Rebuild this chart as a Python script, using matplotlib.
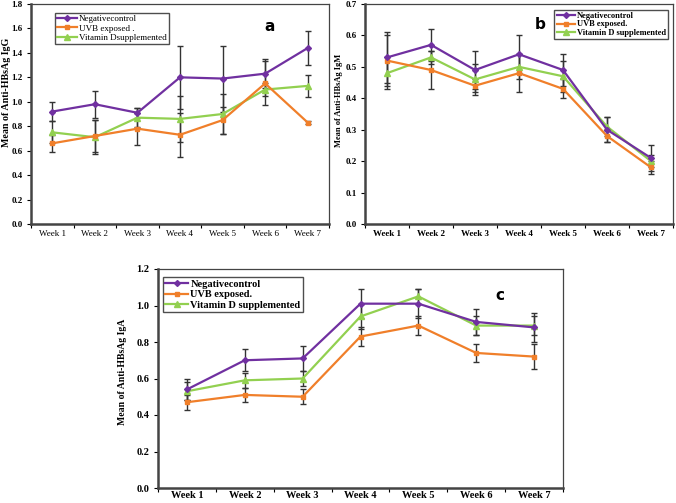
import matplotlib
matplotlib.use("Agg")
import matplotlib.pyplot as plt
import numpy as np

weeks = ["Week 1", "Week 2", "Week 3", "Week 4", "Week 5", "Week 6", "Week 7"]
series_names = ["Negativecontrol", "UVB exposed.", "Vitamin D supplemented"]
series_names_a = ["Negativecontrol", "UVB exposed .", "Vitamin Dsupplemented"]

igg_neg = [0.92, 0.98, 0.91, 1.20, 1.19, 1.23, 1.44]
igg_neg_err = [0.08, 0.11, 0.04, 0.26, 0.27, 0.12, 0.14]
igg_uvb = [0.66, 0.72, 0.78, 0.73, 0.85, 1.15, 0.83]
igg_uvb_err = [0.07, 0.13, 0.13, 0.18, 0.11, 0.18, 0.01]
igg_vit = [0.75, 0.71, 0.87, 0.86, 0.90, 1.10, 1.13]
igg_vit_err = [0.09, 0.14, 0.08, 0.19, 0.16, 0.05, 0.09]

igm_neg = [0.53, 0.57, 0.49, 0.54, 0.49, 0.30, 0.21]
igm_neg_err = [0.08, 0.05, 0.06, 0.06, 0.05, 0.04, 0.04]
igm_uvb = [0.52, 0.49, 0.44, 0.48, 0.43, 0.28, 0.18]
igm_uvb_err = [0.08, 0.06, 0.02, 0.06, 0.03, 0.02, 0.02]
igm_vit = [0.48, 0.53, 0.46, 0.50, 0.47, 0.31, 0.20]
igm_vit_err = [0.05, 0.02, 0.05, 0.04, 0.05, 0.03, 0.02]

iga_neg = [0.54, 0.70, 0.71, 1.01, 1.01, 0.91, 0.88]
iga_neg_err = [0.06, 0.06, 0.07, 0.08, 0.08, 0.07, 0.08]
iga_uvb = [0.47, 0.51, 0.50, 0.83, 0.89, 0.74, 0.72]
iga_uvb_err = [0.04, 0.04, 0.04, 0.05, 0.05, 0.05, 0.07]
iga_vit = [0.53, 0.59, 0.60, 0.94, 1.05, 0.89, 0.89]
iga_vit_err = [0.05, 0.04, 0.04, 0.07, 0.04, 0.05, 0.05]

colors = ["#7030A0", "#F07F2A", "#92D050"]
markers = ["D", "s", "^"]
msizes = [3, 3, 4]

plt.rcParams['font.family'] = ['Liberation Serif', 'DejaVu Serif']

fig = plt.figure(figsize=(6.76, 5.03), dpi=100)
ax_a = fig.add_axes([31/676, 1-224/503, 298/676, 220/503])
ax_b = fig.add_axes([365/676, 1-224/503, 308/676, 220/503])
ax_c = fig.add_axes([158/676, 1-488/503, 405/676, 219/503])


def draw(ax, data, errs, names, ymax, ystep, ylabel, ylab_pos, letter, letter_pos,
         bold, leg_bbox, fs_tick, fs_leg, fs_lab, xpad):
    x = np.arange(len(weeks))
    handles = []
    for i in range(3):
        ax.errorbar(x, data[i], yerr=errs[i], fmt="none", ecolor="#333333",
                    elinewidth=1.0, capsize=2.5, capthick=1.0, zorder=2)
        h, = ax.plot(x, data[i], color=colors[i], marker=markers[i],
                     markersize=msizes[i], lw=1.6, label=names[i], zorder=3 - i * 0.1)
        handles.append(h)
    ax.set_xlim(-0.5, len(weeks) - 0.5)
    ax.set_ylim(0, ymax)
    yt = np.arange(0, ymax + 1e-9, ystep)
    ax.set_yticks(yt)
    weight = "bold" if bold else "normal"
    ax.set_yticklabels([f"{v:.1f}" for v in yt], fontsize=fs_tick, fontweight="bold")
    ax.set_xticks(x)
    ax.set_xticklabels(weeks, fontsize=fs_tick, fontweight=weight)
    ax.set_xticks(np.arange(-0.5, len(weeks)), minor=True)
    ax.tick_params(axis="x", which="major", length=0, pad=xpad)
    ax.tick_params(axis="x", which="minor", length=3, width=0.8)
    ax.tick_params(axis="y", length=3, width=0.8, pad=3)
    for s in ["left", "bottom"]:
        ax.spines[s].set_linewidth(1.8)
        ax.spines[s].set_color("#444444")
    for s in ["top", "right"]:
        ax.spines[s].set_linewidth(0.9)
        ax.spines[s].set_color("#444444")
    ax.set_ylabel(ylabel, fontsize=fs_lab, fontweight="bold")
    ax.yaxis.set_label_coords(*ylab_pos)
    ax.text(letter_pos[0], letter_pos[1], letter, transform=ax.transAxes,
            fontsize=11, fontweight="bold", family="DejaVu Sans", ha="center", va="center")
    leg = ax.legend(handles=handles, loc="upper left", bbox_to_anchor=leg_bbox, frameon=True,
                    fancybox=False, edgecolor="#222222", handlelength=2.2, handletextpad=0.2,
                    borderpad=0.25, labelspacing=0.1, borderaxespad=0,
                    prop={"size": fs_leg, "weight": weight})
    leg.get_frame().set_linewidth(1.0)


draw(ax_a, [igg_neg, igg_uvb, igg_vit], [igg_neg_err, igg_uvb_err, igg_vit_err],
     series_names_a, 1.8, 0.2, "Mean of Anti-HBsAg IgG", (-0.068, 0.6), "a", (0.8, 0.9),
     False, (0.08, 0.96), 6.5, 6.5, 7.2, 4)
draw(ax_b, [igm_neg, igm_uvb, igm_vit], [igm_neg_err, igm_uvb_err, igm_vit_err],
     series_names, 0.7, 0.1, "Mean of Anti-HBsAg IgM", (-0.071, 0.56), "b", (0.57, 0.905),
     True, (0.615, 0.975), 6.5, 6.0, 6.0, 4)
draw(ax_c, [iga_neg, iga_uvb, iga_vit], [iga_neg_err, iga_uvb_err, iga_vit_err],
     series_names, 1.2, 0.2, "Mean of Anti-HBsAg IgA", (-0.077, 0.53), "c", (0.845, 0.88),
     True, (0.012, 0.963), 7.5, 7.5, 7.0, 2)

fig.savefig("out.png", dpi=100)
